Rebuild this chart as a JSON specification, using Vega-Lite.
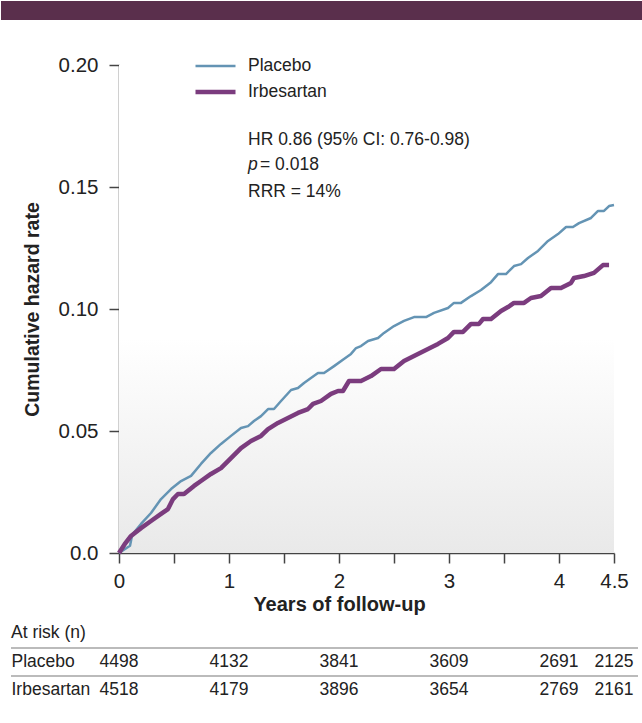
{
  "$schema": "https://vega.github.io/schema/vega-lite/v6.json",
  "padding": 0,
  "background": "white",
  "spacing": 8,
  "config": {
    "font": "Liberation Sans, Arial, sans-serif",
    "view": {"stroke": null},
    "axis": {"labelColor": "#222222", "titleColor": "#222222", "domainColor": "#444444", "tickColor": "#444444", "grid": false}
  },
  "resolve": {"scale": {"x": "independent", "y": "independent"}},
  "datasets": {
    "curves": [
      {"arm": "Placebo", "t": 0, "h": 0},
      {"arm": "Placebo", "t": 0.1, "h": 0.003},
      {"arm": "Placebo", "t": 0.12, "h": 0.0075},
      {"arm": "Placebo", "t": 0.2, "h": 0.0119},
      {"arm": "Placebo", "t": 0.291, "h": 0.0164},
      {"arm": "Placebo", "t": 0.382, "h": 0.0221},
      {"arm": "Placebo", "t": 0.473, "h": 0.0262},
      {"arm": "Placebo", "t": 0.564, "h": 0.0295},
      {"arm": "Placebo", "t": 0.655, "h": 0.0316},
      {"arm": "Placebo", "t": 0.745, "h": 0.0365},
      {"arm": "Placebo", "t": 0.836, "h": 0.041},
      {"arm": "Placebo", "t": 0.927, "h": 0.0447},
      {"arm": "Placebo", "t": 1.018, "h": 0.048},
      {"arm": "Placebo", "t": 1.109, "h": 0.0512},
      {"arm": "Placebo", "t": 1.173, "h": 0.052},
      {"arm": "Placebo", "t": 1.227, "h": 0.0541},
      {"arm": "Placebo", "t": 1.291, "h": 0.0561},
      {"arm": "Placebo", "t": 1.355, "h": 0.059},
      {"arm": "Placebo", "t": 1.409, "h": 0.059},
      {"arm": "Placebo", "t": 1.473, "h": 0.0623},
      {"arm": "Placebo", "t": 1.564, "h": 0.0668},
      {"arm": "Placebo", "t": 1.627, "h": 0.0676},
      {"arm": "Placebo", "t": 1.682, "h": 0.0697},
      {"arm": "Placebo", "t": 1.745, "h": 0.0717},
      {"arm": "Placebo", "t": 1.809, "h": 0.0738},
      {"arm": "Placebo", "t": 1.864, "h": 0.0738},
      {"arm": "Placebo", "t": 1.955, "h": 0.0766},
      {"arm": "Placebo", "t": 2.045, "h": 0.0795},
      {"arm": "Placebo", "t": 2.109, "h": 0.0816},
      {"arm": "Placebo", "t": 2.155, "h": 0.084},
      {"arm": "Placebo", "t": 2.2, "h": 0.0848},
      {"arm": "Placebo", "t": 2.264, "h": 0.0869},
      {"arm": "Placebo", "t": 2.355, "h": 0.0881},
      {"arm": "Placebo", "t": 2.409, "h": 0.0902},
      {"arm": "Placebo", "t": 2.5, "h": 0.093},
      {"arm": "Placebo", "t": 2.591, "h": 0.0951},
      {"arm": "Placebo", "t": 2.682, "h": 0.0967},
      {"arm": "Placebo", "t": 2.791, "h": 0.0967},
      {"arm": "Placebo", "t": 2.864, "h": 0.0984},
      {"arm": "Placebo", "t": 2.991, "h": 0.1004},
      {"arm": "Placebo", "t": 3.045, "h": 0.1025},
      {"arm": "Placebo", "t": 3.109, "h": 0.1025},
      {"arm": "Placebo", "t": 3.2, "h": 0.1053},
      {"arm": "Placebo", "t": 3.291, "h": 0.1078},
      {"arm": "Placebo", "t": 3.382, "h": 0.111},
      {"arm": "Placebo", "t": 3.445, "h": 0.1143},
      {"arm": "Placebo", "t": 3.518, "h": 0.1143},
      {"arm": "Placebo", "t": 3.591, "h": 0.1176},
      {"arm": "Placebo", "t": 3.655, "h": 0.1184},
      {"arm": "Placebo", "t": 3.718, "h": 0.1209},
      {"arm": "Placebo", "t": 3.809, "h": 0.1238},
      {"arm": "Placebo", "t": 3.9, "h": 0.1279},
      {"arm": "Placebo", "t": 3.991, "h": 0.1307},
      {"arm": "Placebo", "t": 4.064, "h": 0.1336},
      {"arm": "Placebo", "t": 4.127, "h": 0.1336},
      {"arm": "Placebo", "t": 4.182, "h": 0.1352},
      {"arm": "Placebo", "t": 4.291, "h": 0.1373},
      {"arm": "Placebo", "t": 4.355, "h": 0.1402},
      {"arm": "Placebo", "t": 4.409, "h": 0.1402},
      {"arm": "Placebo", "t": 4.455, "h": 0.1422},
      {"arm": "Placebo", "t": 4.5, "h": 0.1426},
      {"arm": "Irbesartan", "t": 0, "h": 0},
      {"arm": "Irbesartan", "t": 0.05, "h": 0.0035},
      {"arm": "Irbesartan", "t": 0.109, "h": 0.007},
      {"arm": "Irbesartan", "t": 0.2, "h": 0.0102},
      {"arm": "Irbesartan", "t": 0.291, "h": 0.0131},
      {"arm": "Irbesartan", "t": 0.382, "h": 0.016},
      {"arm": "Irbesartan", "t": 0.445, "h": 0.018},
      {"arm": "Irbesartan", "t": 0.491, "h": 0.0221},
      {"arm": "Irbesartan", "t": 0.536, "h": 0.0242},
      {"arm": "Irbesartan", "t": 0.591, "h": 0.0242},
      {"arm": "Irbesartan", "t": 0.682, "h": 0.0275},
      {"arm": "Irbesartan", "t": 0.745, "h": 0.0295},
      {"arm": "Irbesartan", "t": 0.836, "h": 0.0324},
      {"arm": "Irbesartan", "t": 0.927, "h": 0.0348},
      {"arm": "Irbesartan", "t": 1.018, "h": 0.0389},
      {"arm": "Irbesartan", "t": 1.109, "h": 0.043},
      {"arm": "Irbesartan", "t": 1.2, "h": 0.0459},
      {"arm": "Irbesartan", "t": 1.291, "h": 0.048},
      {"arm": "Irbesartan", "t": 1.355, "h": 0.0508},
      {"arm": "Irbesartan", "t": 1.445, "h": 0.0533},
      {"arm": "Irbesartan", "t": 1.536, "h": 0.0553},
      {"arm": "Irbesartan", "t": 1.627, "h": 0.0574},
      {"arm": "Irbesartan", "t": 1.718, "h": 0.059},
      {"arm": "Irbesartan", "t": 1.764, "h": 0.0611},
      {"arm": "Irbesartan", "t": 1.836, "h": 0.0623},
      {"arm": "Irbesartan", "t": 1.927, "h": 0.0652},
      {"arm": "Irbesartan", "t": 1.991, "h": 0.0664},
      {"arm": "Irbesartan", "t": 2.036, "h": 0.0664},
      {"arm": "Irbesartan", "t": 2.091, "h": 0.0705},
      {"arm": "Irbesartan", "t": 2.2, "h": 0.0705},
      {"arm": "Irbesartan", "t": 2.291, "h": 0.0725},
      {"arm": "Irbesartan", "t": 2.382, "h": 0.0754},
      {"arm": "Irbesartan", "t": 2.5, "h": 0.0754},
      {"arm": "Irbesartan", "t": 2.591, "h": 0.0787},
      {"arm": "Irbesartan", "t": 2.718, "h": 0.0816},
      {"arm": "Irbesartan", "t": 2.809, "h": 0.0836},
      {"arm": "Irbesartan", "t": 2.9, "h": 0.0857},
      {"arm": "Irbesartan", "t": 2.991, "h": 0.0881},
      {"arm": "Irbesartan", "t": 3.045, "h": 0.0906},
      {"arm": "Irbesartan", "t": 3.127, "h": 0.0906},
      {"arm": "Irbesartan", "t": 3.2, "h": 0.0939},
      {"arm": "Irbesartan", "t": 3.273, "h": 0.0939},
      {"arm": "Irbesartan", "t": 3.309, "h": 0.0959},
      {"arm": "Irbesartan", "t": 3.382, "h": 0.0959},
      {"arm": "Irbesartan", "t": 3.473, "h": 0.0992},
      {"arm": "Irbesartan", "t": 3.536, "h": 0.1008},
      {"arm": "Irbesartan", "t": 3.591, "h": 0.1025},
      {"arm": "Irbesartan", "t": 3.682, "h": 0.1025},
      {"arm": "Irbesartan", "t": 3.745, "h": 0.1045},
      {"arm": "Irbesartan", "t": 3.836, "h": 0.1053},
      {"arm": "Irbesartan", "t": 3.927, "h": 0.1086},
      {"arm": "Irbesartan", "t": 4.018, "h": 0.1086},
      {"arm": "Irbesartan", "t": 4.109, "h": 0.1107},
      {"arm": "Irbesartan", "t": 4.136, "h": 0.1127},
      {"arm": "Irbesartan", "t": 4.227, "h": 0.1135},
      {"arm": "Irbesartan", "t": 4.318, "h": 0.1148},
      {"arm": "Irbesartan", "t": 4.4, "h": 0.118},
      {"arm": "Irbesartan", "t": 4.455, "h": 0.118}
    ],
    "risk": [
      {"group": "Placebo", "t": 0, "n": 4498},
      {"group": "Placebo", "t": 1, "n": 4132},
      {"group": "Placebo", "t": 2, "n": 3841},
      {"group": "Placebo", "t": 3, "n": 3609},
      {"group": "Placebo", "t": 4, "n": 2691},
      {"group": "Placebo", "t": 4.5, "n": 2125},
      {"group": "Irbesartan", "t": 0, "n": 4518},
      {"group": "Irbesartan", "t": 1, "n": 4179},
      {"group": "Irbesartan", "t": 2, "n": 3896},
      {"group": "Irbesartan", "t": 3, "n": 3654},
      {"group": "Irbesartan", "t": 4, "n": 2769},
      {"group": "Irbesartan", "t": 4.5, "n": 2161}
    ]
  },
  "vconcat": [
    {
      "width": 495,
      "height": 488,
      "data": {"values": [{}]},
      "resolve": {"axis": {"x": "independent", "y": "independent"}},
      "layer": [
        {
          "mark": {
            "type": "rect",
            "color": {"gradient": "linear", "x1": 0, "y1": 0, "x2": 0, "y2": 1, "stops": [{"offset": 0, "color": "#ffffff"}, {"offset": 0.56, "color": "#ffffff"}, {"offset": 1, "color": "#e9e9e9"}]}
          },
          "encoding": {
            "x": {"datum": 0, "type": "quantitative", "scale": {"domain": [0, 4.5], "nice": false, "zero": false}, "axis": null},
            "x2": {"datum": 4.5},
            "y": {"datum": 0.2, "type": "quantitative", "scale": {"domain": [0, 0.2], "nice": false}, "axis": null},
            "y2": {"datum": 0}
          }
        },
        {
          "mark": {"type": "rect", "color": "#5a2f4c"},
          "encoding": {
            "x": {"datum": -1.07273, "type": "quantitative", "scale": {"domain": [0, 4.5], "nice": false, "zero": false}, "axis": null},
            "x2": {"datum": 4.76364},
            "y": {"datum": 0.22623, "type": "quantitative", "scale": {"domain": [0, 0.2], "nice": false}, "axis": null},
            "y2": {"datum": 0.21844}
          }
        },
        {
          "data": {"name": "curves"},
          "mark": {"type": "line", "interpolate": "linear", "strokeCap": "butt", "strokeJoin": "round"},
          "encoding": {
            "x": {
              "field": "t", "type": "quantitative",
              "scale": {"domain": [0, 4.5], "nice": false, "zero": false},
              "axis": {
                "values": [0, 0.5, 1, 1.5, 2, 2.5, 3, 3.5, 4, 4.5],
                "labelExpr": "datum.value == 4.5 ? '4.5' : (datum.value % 1 == 0 ? format(datum.value, 'd') : '')",
                "labelOverlap": false, "labelFlush": false,
                "title": "Years of follow-up", "titleFontSize": 20, "titleFontWeight": "bold",
                "labelFontSize": 20.5, "tickSize": 10, "labelPadding": 8, "titlePadding": 3, "titleX": 220,
                "domainWidth": 1.5, "tickWidth": 1.5
              }
            },
            "y": {
              "field": "h", "type": "quantitative",
              "scale": {"domain": [0, 0.2], "nice": false},
              "axis": {
                "values": [0, 0.05, 0.1, 0.15, 0.2],
                "labelExpr": "datum.value == 0 ? '0.0' : format(datum.value, '.2f')",
                "labelOverlap": false, "labelFlush": false,
                "title": "Cumulative hazard rate", "titleFontSize": 19.5, "titleFontWeight": "bold",
                "labelFontSize": 20.5, "tickSize": 10, "labelPadding": 11, "titlePadding": 16,
                "domainWidth": 1.5, "tickWidth": 1.5
              }
            },
            "color": {
              "field": "arm", "type": "nominal",
              "scale": {"domain": ["Placebo", "Irbesartan"], "range": ["#6494b4", "#7b3c7e"]},
              "legend": {
                "orient": "none", "legendX": 74, "legendY": -9, "title": null, "symbolType": "stroke", "symbolSize": 1600, "clipHeight": 20, "rowPadding": 6, "labelFontSize": 17.5, "labelOffset": 10, "labelColor": "#222222", "padding": 0,
                "encoding": {"symbols": {"strokeWidth": {"value": {"expr": "datum.value === 'Placebo' ? 2.5 : 4.5"}}}}
              }
            },
            "strokeWidth": {
              "field": "arm", "type": "nominal",
              "scale": {"type": "ordinal", "domain": ["Placebo", "Irbesartan"], "range": [2.5, 4.5]},
              "legend": null
            }
          }
        },
        {
          "mark": {"type": "text", "text": "HR 0.86 (95% CI: 0.76-0.98)", "align": "left", "baseline": "middle", "fontSize": 17.5, "color": "#222222"},
          "encoding": {
            "x": {"datum": 1.1727, "type": "quantitative", "scale": {"domain": [0, 4.5], "nice": false, "zero": false}, "axis": null},
            "y": {"datum": 0.1693, "type": "quantitative", "scale": {"domain": [0, 0.2], "nice": false}, "axis": null}
          }
        },
        {
          "mark": {"type": "text", "text": "p", "align": "left", "baseline": "middle", "fontSize": 17.5, "fontStyle": "italic", "color": "#222222"},
          "encoding": {
            "x": {"datum": 1.1727, "type": "quantitative", "scale": {"domain": [0, 4.5], "nice": false, "zero": false}, "axis": null},
            "y": {"datum": 0.1591, "type": "quantitative", "scale": {"domain": [0, 0.2], "nice": false}, "axis": null}
          }
        },
        {
          "mark": {"type": "text", "text": "= 0.018", "align": "left", "baseline": "middle", "fontSize": 17.5, "color": "#222222"},
          "encoding": {
            "x": {"datum": 1.2818, "type": "quantitative", "scale": {"domain": [0, 4.5], "nice": false, "zero": false}, "axis": null},
            "y": {"datum": 0.1591, "type": "quantitative", "scale": {"domain": [0, 0.2], "nice": false}, "axis": null}
          }
        },
        {
          "mark": {"type": "text", "text": "RRR = 14%", "align": "left", "baseline": "middle", "fontSize": 17.5, "color": "#222222"},
          "encoding": {
            "x": {"datum": 1.1727, "type": "quantitative", "scale": {"domain": [0, 4.5], "nice": false, "zero": false}, "axis": null},
            "y": {"datum": 0.1481, "type": "quantitative", "scale": {"domain": [0, 0.2], "nice": false}, "axis": null}
          }
        }
      ]
    },
    {
      "width": 495,
      "height": 56,
      "data": {"name": "risk"},
      "resolve": {"axis": {"x": "independent", "y": "independent"}},
      "title": {"text": "At risk (n)", "anchor": "start", "frame": "group", "dx": -108, "offset": 6, "fontSize": 17.5, "fontWeight": "normal", "color": "#222222"},
      "layer": [
        {
          "mark": {"type": "rule", "color": "#bbbbbb", "strokeWidth": 1.5},
          "encoding": {
            "y": {"field": "group", "type": "nominal", "bandPosition": 0, "scale": {"type": "band", "domain": ["Placebo", "Irbesartan"], "paddingInner": 0, "paddingOuter": 0}, "axis": null},
            "x": {"datum": -0.982, "type": "quantitative", "scale": {"domain": [0, 4.5], "nice": false, "zero": false}, "axis": null},
            "x2": {"datum": 4.718}
          }
        },
        {
          "mark": {"type": "text", "fontSize": 17.5, "color": "#222222", "baseline": "middle"},
          "encoding": {
            "x": {"field": "t", "type": "quantitative", "scale": {"domain": [0, 4.5], "nice": false, "zero": false}, "axis": null},
            "y": {
              "field": "group", "type": "nominal",
              "scale": {"type": "band", "domain": ["Placebo", "Irbesartan"], "paddingInner": 0, "paddingOuter": 0},
              "axis": {"title": null, "ticks": false, "tickSize": 0, "domain": false, "labelAlign": "left", "labelPadding": 108, "labelFontSize": 17.5, "labelColor": "#222222"}
            },
            "text": {"field": "n", "type": "quantitative", "format": "d"}
          }
        }
      ]
    }
  ]
}
